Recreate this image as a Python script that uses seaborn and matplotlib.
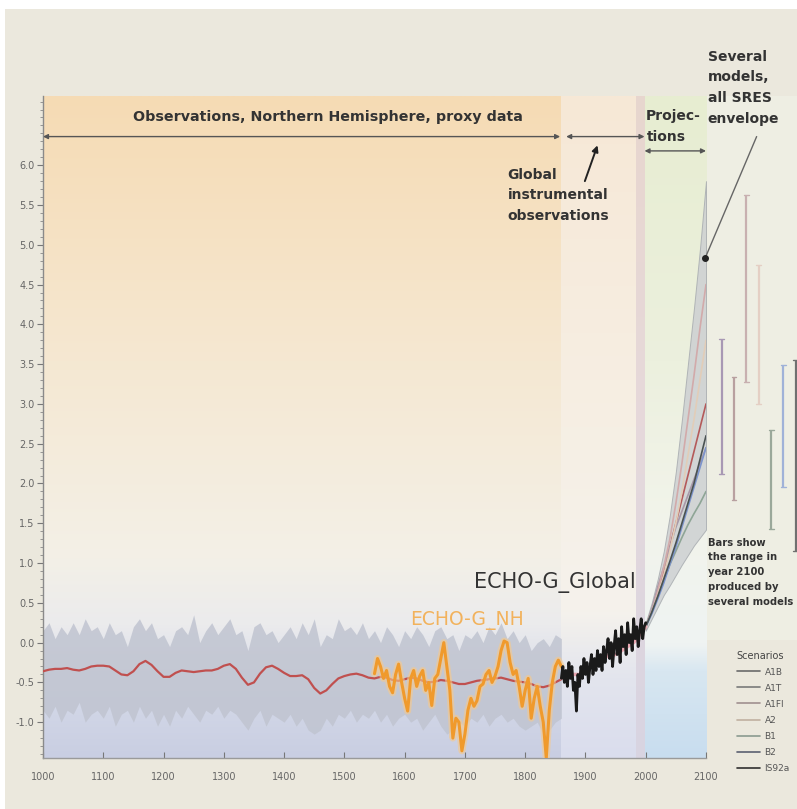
import numpy as np
import matplotlib.pyplot as plt
import seaborn as sns
from matplotlib.colors import LinearSegmentedColormap
from matplotlib.lines import Line2D
from matplotlib.patches import Rectangle

sns.set_style("ticks")
plt.rcParams["font.family"] = ["DejaVu Sans"]

# ---- data ----
proxy_years = np.arange(1000, 1861, 10)
proxy_upper = [0.15, 0.25, 0.05, 0.2, 0.1, 0.25, 0.1, 0.3, 0.15, 0.2,
               0.05, 0.25, 0.1, 0.15, -0.05, 0.2, 0.3, 0.15, 0.25, 0.05,
               0.1, -0.05, 0.15, 0.2, 0.1, 0.35, 0.0, 0.15, 0.25, 0.1,
               0.2, 0.3, 0.1, 0.15, -0.1, 0.2, 0.25, 0.1, 0.15, 0.0,
               0.1, 0.2, 0.05, 0.25, 0.1, 0.3, -0.05, 0.1, 0.05, 0.3,
               0.15, 0.2, 0.1, 0.25, 0.05, 0.15, 0.0, 0.2, 0.1, -0.05,
               0.15, 0.05, 0.2, 0.1, -0.05, 0.15, 0.2, 0.05, 0.1, -0.1,
               0.1, 0.05, 0.15, 0.0, 0.2, 0.1, 0.25, 0.05, 0.15, 0.0,
               0.1, -0.1, 0.0, 0.05, -0.05, 0.1, 0.05]
proxy_lower = [-0.85, -0.95, -0.8, -1.0, -0.85, -0.9, -0.75, -1.0, -0.9, -0.85,
               -0.95, -0.8, -1.05, -0.9, -0.85, -1.0, -0.8, -0.95, -0.85, -1.05,
               -0.9, -1.05, -0.85, -0.95, -0.8, -0.9, -1.0, -0.85, -0.9, -0.8,
               -0.95, -0.85, -0.9, -1.0, -1.1, -0.95, -0.85, -1.05, -0.9, -0.95,
               -1.0, -0.9, -1.05, -0.95, -1.1, -1.15, -1.1, -0.95, -1.05, -0.9,
               -0.95, -0.85, -1.0, -0.9, -0.95, -0.85, -1.0, -0.9, -1.05, -0.95,
               -0.9, -1.0, -0.95, -1.1, -1.0, -0.9, -1.05, -1.15, -1.1, -1.0,
               -1.05, -0.95, -1.0, -0.9, -1.05, -0.95, -0.9, -1.0, -0.95, -1.05,
               -1.1, -1.05, -1.0, -1.15, -1.1, -1.0, -0.95]
proxy_mean = [-0.36, -0.34, -0.33, -0.33, -0.32, -0.34, -0.35, -0.33, -0.3, -0.29,
              -0.29, -0.3, -0.35, -0.4, -0.41, -0.36, -0.27, -0.23, -0.28, -0.36,
              -0.43, -0.43, -0.38, -0.35, -0.36, -0.37, -0.36, -0.35, -0.35, -0.33,
              -0.29, -0.27, -0.33, -0.44, -0.53, -0.5, -0.39, -0.31, -0.29, -0.33,
              -0.38, -0.42, -0.42, -0.41, -0.46, -0.57, -0.64, -0.6, -0.52, -0.45,
              -0.42, -0.4, -0.39, -0.41, -0.44, -0.45, -0.43, -0.44, -0.47, -0.48,
              -0.46, -0.44, -0.45, -0.48, -0.5, -0.49, -0.47, -0.48, -0.5, -0.52,
              -0.52, -0.5, -0.48, -0.47, -0.46, -0.45, -0.44, -0.46, -0.48, -0.49,
              -0.5, -0.52, -0.55, -0.56, -0.54, -0.5, -0.46]

nh_years = np.arange(1550, 1861, 5)
echo_nh = [-0.39, -0.2, -0.3, -0.45, -0.35, -0.55, -0.63, -0.4, -0.27, -0.5,
           -0.7, -0.86, -0.45, -0.35, -0.55, -0.42, -0.35, -0.6, -0.5, -0.79,
           -0.45, -0.4, -0.2, 0.0, -0.3, -0.6, -1.2, -0.95, -1.0, -1.36,
           -1.15, -0.85, -0.7, -0.8, -0.73, -0.55, -0.52, -0.4, -0.35, -0.5,
           -0.42, -0.3, -0.1, 0.02, 0.0, -0.25, -0.4, -0.35, -0.55, -0.8,
           -0.6, -0.45, -0.95, -0.7, -0.55, -0.8, -1.0, -1.45, -0.85, -0.5,
           -0.3, -0.22, -0.3]

glob_years = np.arange(1860, 2000.1, 2.5)
echo_global = [-0.45, -0.3, -0.5, -0.35, -0.55, -0.25, -0.45, -0.3, -0.6, -0.5,
               -0.86, -0.4, -0.55, -0.3, -0.45, -0.2, -0.4, -0.25, -0.5, -0.3,
               -0.15, -0.4, -0.2, -0.35, -0.1, -0.3, -0.15, -0.35, -0.05, -0.25,
               -0.1, 0.05, -0.2, 0.0, -0.3, -0.05, 0.15, -0.15, 0.05, -0.25,
               0.2, -0.05, 0.1, -0.15, 0.25, 0.0, 0.1, -0.1, 0.3, 0.05,
               0.2, -0.05, 0.15, 0.3, 0.05, 0.2, 0.25]

instr_years = np.arange(1860, 2001, 10)
instr_mean = [-0.45, -0.42, -0.4, -0.4, -0.35, -0.3, -0.25, -0.2, -0.15, -0.15,
              -0.1, -0.05, 0.0, 0.1, 0.2]

proj_years = np.arange(2000, 2101, 10)
env_upper = [0.25, 0.5, 0.8, 1.15, 1.6, 2.15, 2.8, 3.5, 4.2, 4.95, 5.8]
env_lower = [0.15, 0.3, 0.45, 0.6, 0.72, 0.85, 0.98, 1.1, 1.22, 1.32, 1.42]

scenarios = ["A1B", "A1T", "A1FI", "A2", "B1", "B2", "IS92a"]
scen_values = {
    "A1B": [0.2, 0.4, 0.65, 0.9, 1.2, 1.5, 1.8, 2.1, 2.4, 2.7, 3.0],
    "A1T": [0.2, 0.42, 0.7, 0.95, 1.2, 1.45, 1.65, 1.85, 2.05, 2.25, 2.45],
    "A1FI": [0.2, 0.4, 0.65, 0.95, 1.3, 1.75, 2.25, 2.8, 3.35, 3.95, 4.5],
    "A2": [0.2, 0.38, 0.6, 0.85, 1.15, 1.5, 1.9, 2.35, 2.8, 3.3, 3.8],
    "B1": [0.2, 0.38, 0.58, 0.78, 0.98, 1.15, 1.32, 1.48, 1.62, 1.75, 1.9],
    "B2": [0.2, 0.36, 0.55, 0.75, 0.98, 1.2, 1.45, 1.7, 1.95, 2.2, 2.45],
    "IS92a": [0.2, 0.38, 0.58, 0.8, 1.02, 1.25, 1.5, 1.75, 2.0, 2.3, 2.6],
}
bar_low = [2.12, 1.79, 3.28, 3.0, 1.43, 1.96, 1.15]
bar_high = [3.81, 3.34, 5.63, 4.75, 2.67, 3.49, 3.55]

scen_colors = ["#b45a5a", "#a898a8", "#d2aaaa", "#e2cdb8", "#8ea596", "#7c94cc", "#4a5252"]
bar_colors = ["#a898b4", "#b8a0a0", "#c8b0b0", "#e4cfc4", "#9aa89a", "#a0b2d8", "#707070"]

# ---- figure ----
W, H = 797, 809
fig = plt.figure(figsize=(W / 100, H / 100), dpi=100, facecolor="white")
fig.patches.append(Rectangle((5 / W, 0), 1, 1 - 9 / H, transform=fig.transFigure,
                             facecolor="#ebe8dd", edgecolor="none", zorder=-10))
fig.patches.append(Rectangle((706 / W, 1 - 640 / H), 91 / W, 544 / H,
                             transform=fig.transFigure, facecolor="#eeeee3",
                             edgecolor="none", zorder=-9))
ax = fig.add_axes([43 / W, 51 / H, 663 / W, 662 / H])
ax.set_facecolor("none")
ymin, ymax = -1.45, 6.87


# gradient backgrounds
def band(x0, x1, stops):
    cmap = LinearSegmentedColormap.from_list("g", stops)
    grad = np.linspace(0, 1, 256).reshape(-1, 1)
    ax.imshow(grad, cmap=cmap, extent=[x0, x1, ymin, ymax], origin="lower",
              aspect="auto", zorder=0, interpolation="bilinear")


band(1000, 1860, [(0, "#c9cee2"), (0.1, "#d4d9e8"), (0.2, "#ebebed"),
                  (0.3, "#f3f0e7"), (0.6, "#f5e8d2"), (1, "#f6dbb4")])
band(1860, 1984, [(0, "#dadded"), (0.12, "#e3e5ee"), (0.22, "#f5f2ec"),
                  (0.5, "#f6efe4"), (1, "#f7e8d6")])
band(1984, 1998, [(0, "#d8d4e2"), (0.5, "#e6d9db"), (1, "#e8d6ce")])
band(1998, 2100, [(0, "#c8ddef"), (0.13, "#d8e7f1"), (0.17, "#eff3f3"),
                  (0.35, "#f2f4eb"), (0.6, "#ecf0de"), (1, "#e7edd1")])
ax.set_xlim(1000, 2100)
ax.set_ylim(ymin, ymax)

# proxy envelope and mean
ax.fill_between(proxy_years, proxy_lower, proxy_upper, color="#c0c4d0",
                alpha=0.85, linewidth=0, zorder=1)
sns.lineplot(x=proxy_years, y=proxy_mean, ax=ax, color="#c0504f",
             linewidth=1.6, zorder=3)

# ECHO-G NH
sns.lineplot(x=nh_years, y=echo_nh, ax=ax, color="#f7c98a", linewidth=5,
             alpha=0.6, zorder=4)
sns.lineplot(x=nh_years, y=echo_nh, ax=ax, color="#f09a2c", linewidth=2.2,
             zorder=5)

# instrumental and ECHO-G global
sns.lineplot(x=instr_years, y=instr_mean, ax=ax, color="#e8a6b0",
             linewidth=2.5, zorder=4)
sns.lineplot(x=glob_years, y=echo_global, ax=ax, color="#1a1a1a",
             linewidth=2.0, zorder=6)

# projections
ax.fill_between(proj_years, env_lower, env_upper, color="#cdd0d2",
                alpha=0.85, edgecolor="#a8acb0", linewidth=0.7, zorder=2)
for name, col in zip(scenarios, scen_colors):
    sns.lineplot(x=proj_years, y=scen_values[name], ax=ax, color=col,
                 linewidth=1.2, zorder=3)

# range bars in 2100 (drawn right of the axes)
bar_x = 2126 + 20.5 * np.arange(len(scenarios))
for xb, lo, hi, col in zip(bar_x, bar_low, bar_high, bar_colors):
    ax.plot([xb, xb], [lo, hi], color=col, linewidth=1.6, clip_on=False,
            solid_capstyle="butt")
    for yy in (lo, hi):
        ax.plot([xb - 4, xb + 4], [yy, yy], color=col, linewidth=1.0,
                clip_on=False)

# axes styling
sns.despine(ax=ax, top=True, right=True)
ax.spines["left"].set_color("#8a8a8a")
ax.spines["bottom"].set_color("#9a9a9a")
ax.spines["left"].set_linewidth(1.0)
ax.spines["bottom"].set_linewidth(1.0)
ax.set_yticks(np.arange(-1.0, 6.01, 0.5))
ax.set_yticks(np.arange(-1.4, 6.81, 0.1), minor=True)
ax.set_yticklabels([f"{v:.1f}" for v in np.arange(-1.0, 6.01, 0.5)])
ax.set_xticks(np.arange(1000, 2101, 100))
ax.tick_params(axis="y", which="major", length=4, width=0.8, color="#777",
               labelsize=7, labelcolor="#666", pad=2)
ax.tick_params(axis="y", which="minor", length=2.5, width=0.6, color="#888")
ax.tick_params(axis="x", which="major", direction="in", length=4, width=0.8,
               color="#777", labelsize=7, labelcolor="#666", pad=10)
ax.set_xlabel("")
ax.set_ylabel("")

txt = "#333333"
arrow_kw = dict(arrowstyle="<|-|>", color="#555555", lw=1.0,
                mutation_scale=7, shrinkA=0, shrinkB=0)
ax.annotate("", xy=(1000, 6.36), xytext=(1858, 6.36), arrowprops=arrow_kw,
            annotation_clip=False)
ax.annotate("", xy=(1868, 6.36), xytext=(1998, 6.36), arrowprops=arrow_kw,
            annotation_clip=False)
ax.annotate("", xy=(1998, 6.18), xytext=(2100, 6.18), arrowprops=arrow_kw,
            annotation_clip=False)
ax.text(1473, 6.6, "Observations, Northern Hemisphere, proxy data",
        ha="center", va="center", fontsize=10.3, fontweight="bold", color=txt)
ax.text(1771, 5.97, "Global\ninstrumental\nobservations", ha="left",
        va="top", fontsize=10, fontweight="bold", color=txt, linespacing=1.6)
ax.annotate("", xy=(1920, 6.25), xytext=(1899, 5.8),
            arrowprops=dict(arrowstyle="-|>", color="#222", lw=1.4,
                            mutation_scale=9, shrinkA=0, shrinkB=0))
ax.text(2000, 6.62, "Projec-", ha="left", va="center", fontsize=10,
        fontweight="bold", color=txt)
ax.text(2002, 6.36, "tions", ha="left", va="center", fontsize=10,
        fontweight="bold", color=txt)
ax.text(2103, 7.45, "Several\nmodels,\nall SRES\nenvelope", ha="left",
        va="top", fontsize=10, fontweight="bold", color=txt, linespacing=1.6)
ax.annotate("", xy=(2099, 4.84), xytext=(2184, 6.36),
            arrowprops=dict(arrowstyle="-", color="#666", lw=1.0,
                            shrinkA=0, shrinkB=0), annotation_clip=False)
ax.plot([2099], [4.84], "o", color="#222", markersize=4, clip_on=False, zorder=7)
ax.text(2103, 1.32, "Bars show\nthe range in\nyear 2100\nproduced by\nseveral models",
        ha="left", va="top", fontsize=7.2, fontweight="bold", color=txt,
        linespacing=1.6)

ax.text(1715, 0.75, "ECHO-G_Global", ha="left", va="center", fontsize=15,
        color="#333333")
ax.text(1609, 0.28, "ECHO-G_NH", ha="left", va="center", fontsize=13.5,
        color="#f2b25c")

handles = [Line2D([0], [0], color=c, lw=1.2) for c in
           ["#6a6a6a", "#7a7a7a", "#a09090", "#c0b0a0", "#8a9a90", "#5a6070", "#303030"]]
leg = fig.legend(handles, scenarios, title="Scenarios", loc="upper left",
                 bbox_to_anchor=(732 / W, 1 - 646 / H), frameon=False,
                 fontsize=6.5, title_fontsize=7, handlelength=2.6,
                 labelspacing=0.78, handletextpad=0.5, borderpad=0,
                 alignment="left")
for t in leg.get_texts():
    t.set_color("#555")
leg.get_title().set_color("#444")

fig.savefig("out.png", dpi=100, facecolor=fig.get_facecolor())
